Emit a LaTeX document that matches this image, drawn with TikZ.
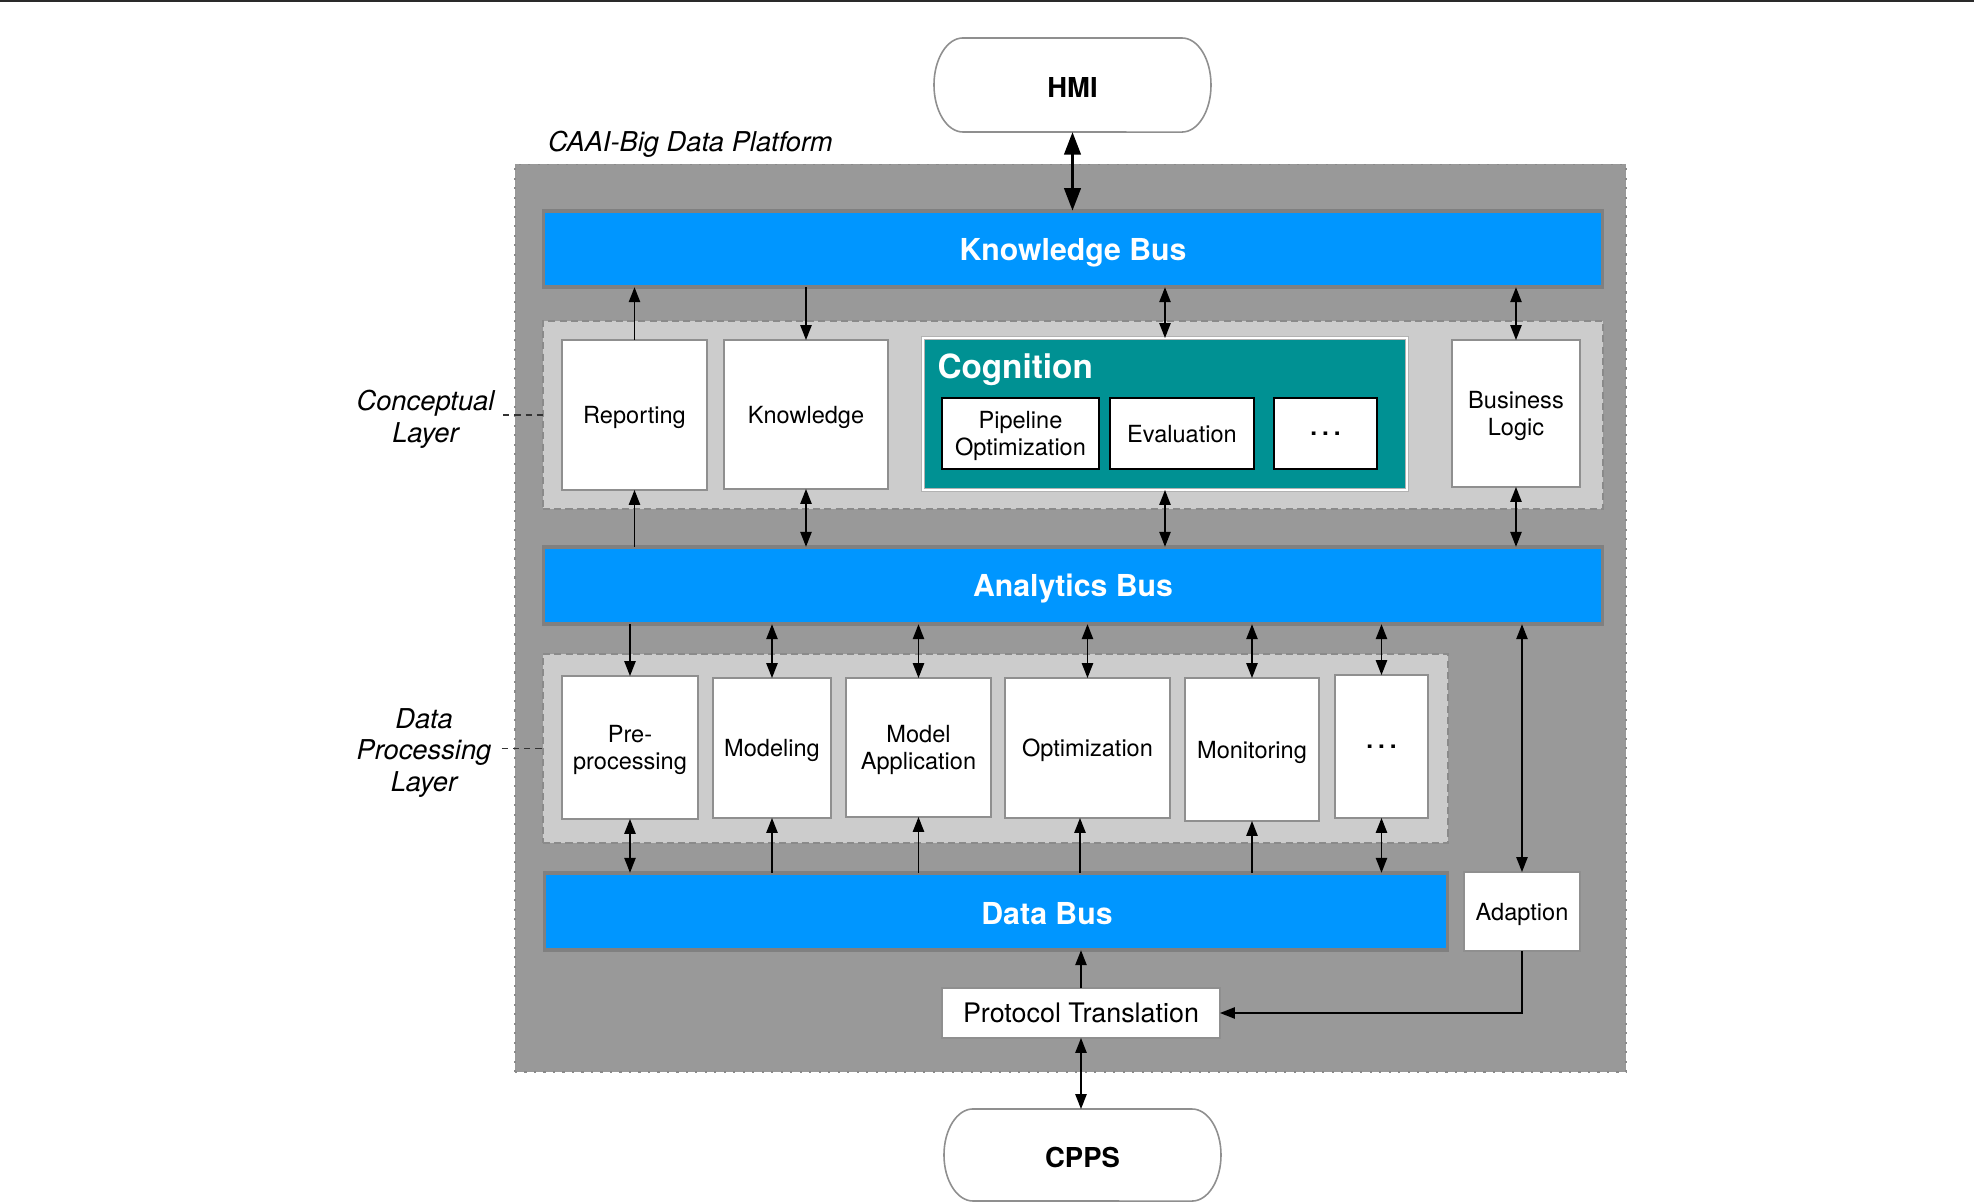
\documentclass[tikz,border=0pt]{standalone}
\usepackage{fontspec}
\setmainfont{TeX Gyre Heros}
\usetikzlibrary{arrows.meta,calc}
\definecolor{platgray}{HTML}{999999}
\definecolor{platborder}{HTML}{8A8A8A}
\definecolor{layergray}{HTML}{CCCCCC}
\definecolor{layerborder}{HTML}{8A8A8A}
\definecolor{busblue}{HTML}{0096FF}
\definecolor{busborder}{HTML}{808080}
\definecolor{cogteal}{HTML}{009193}
\definecolor{boxborder}{HTML}{8F8F8F}
\definecolor{rulecol}{HTML}{2A2A2A}
\newcommand\fs[2]{\fontsize{#1}{#2}\selectfont}
\newcommand\dotsbox{{\bfseries\fs{6.9}{8}.\kern1.45pt.\kern1.45pt.}}
\newcommand\mkbox[7]{%
  \pgfmathsetmacro\bw{(#5-#3)*0.01}%
  \pgfmathsetmacro\bh{(#6-#4)*0.01}%
  \node[#2, minimum width=\bw cm, minimum height=\bh cm] (#1) at ({(#3+#5)/2},{(#4+#6)/2}) {#7};}
\begin{document}
\begin{tikzpicture}[x=0.01cm,y=-0.01cm,
  every node/.style={inner sep=0pt, outer sep=0pt},
  platform/.style={fill=platgray, draw=platborder, line width=0.5pt, dash pattern=on 0.6pt off 2.1pt},
  layer/.style={fill=layergray, draw=layerborder, line width=0.3pt, dash pattern=on 2pt off 1.2pt},
  bus/.style={fill=busblue, draw=busborder, line width=1pt, text=white, text depth=0pt, font=\fs{8.6}{10}\bfseries},
  wbox/.style={fill=white, draw=boxborder, line width=0.45pt, align=center, text depth=0pt, font=\fs{6.7}{7.9}},
  cbox/.style={fill=white, draw=black, line width=0.6pt, align=center, text depth=0pt, font=\fs{6.7}{7.9}},
  cogbox/.style={fill=cogteal, draw=black!30, line width=0.22pt, double=white, double distance=0.55pt},
  term/.style={draw=none, text height=7pt, text depth=0pt, font=\fs{7.8}{9}\bfseries},
  termline/.style={draw=boxborder, fill=white, line width=0.45pt},
  layerlab/.style={align=center, text width=1.55cm, font=\fs{7.77}{9}\itshape},
  lconn/.style={draw=black!80, line width=0.3pt, dash pattern=on 1.8pt off 1.4pt},
  arr/.style={line width=0.4pt, -{Triangle[length=4.2pt,width=3.2pt]}},
  darr/.style={line width=0.4pt, {Triangle[length=4.2pt,width=3.2pt]}-{Triangle[length=4.2pt,width=3.2pt]}},
  bigdarr/.style={line width=0.95pt, {Triangle[length=6.4pt,width=4.6pt]}-{Triangle[length=6.4pt,width=4.6pt]}}
]
\useasboundingbox (0,0) rectangle (1974,1203);
\fill[rulecol] (0,0) rectangle (1974,2.2);

% platform
\mkbox{plat}{platform}{515}{164.5}{1626}{1072}{}
\node[anchor=base west, font=\fs{7.77}{9}\itshape] (plab) at (548,151) {CAAI-Big Data Platform};

% buses and layers
\mkbox{kb}{bus}{543.75}{210.75}{1602.25}{287.25}{Knowledge Bus}
\mkbox{cl}{layer}{543}{321}{1603}{509}{}
\mkbox{ab}{bus}{543.75}{546.75}{1602.25}{624.25}{Analytics Bus}
\mkbox{dpl}{layer}{543}{654}{1448}{843}{}
\mkbox{db}{bus}{544.75}{872.75}{1447.25}{950.25}{}
\node[text=white, text depth=0pt, font=\fs{8.6}{10}\bfseries] (dbt) at (1047,913) {Data Bus};

% conceptual layer
\mkbox{rep}{wbox}{562}{340}{707}{490}{Reporting}
\mkbox{kn}{wbox}{724}{340}{888}{489}{Knowledge}
\mkbox{cog}{cogbox}{923}{338}{1407}{490}{}
\node[anchor=base west, text=white, font=\fs{9.47}{11}\bfseries] (cogt) at (937.5,378) {Cognition};
\mkbox{po}{cbox}{942}{398}{1099}{469}{Pipeline\\Optimization}
\mkbox{ev}{cbox}{1110}{398}{1254}{469}{Evaluation}
\mkbox{cd}{cbox}{1274}{398}{1377}{469}{\dotsbox}
\mkbox{bl}{wbox}{1452}{340}{1580}{487}{Business\\Logic}

% data processing layer
\mkbox{pre}{wbox}{562}{676}{698}{819}{Pre-\\processing}
\mkbox{mod}{wbox}{713}{678}{831}{818}{Modeling}
\mkbox{ma}{wbox}{846}{678}{991}{817}{Model\\Application}
\mkbox{opt}{wbox}{1005}{678}{1170}{818}{Optimization}
\mkbox{mon}{wbox}{1185}{678}{1319}{821}{Monitoring}
\mkbox{dd}{wbox}{1335}{675}{1428}{818}{\dotsbox}

\mkbox{ad}{wbox}{1464}{872}{1580}{951}{Adaption}
\mkbox{pt}{wbox, font=\fs{7.65}{9}}{942}{988}{1220}{1038}{Protocol Translation}

% terminals
\draw[termline] (963,38) -- (1182,38) arc[start angle=90,end angle=-90,x radius=0.29cm,y radius=0.47cm] -- (963,132) arc[start angle=270,end angle=90,x radius=0.29cm,y radius=0.47cm] -- cycle;
\mkbox{hmi}{term}{934}{38}{1211}{132}{HMI}
\draw[termline] (973,1109) -- (1192,1109) arc[start angle=90,end angle=-90,x radius=0.29cm,y radius=0.46cm] -- (973,1201) arc[start angle=270,end angle=90,x radius=0.29cm,y radius=0.46cm] -- cycle;
\mkbox{cpps}{term}{944}{1109}{1221}{1201}{CPPS}

% layer labels
\node[layerlab] (cll) at (425.5,419) {Conceptual\\Layer};
\node[layerlab] (dpll) at (424,753) {Data\\Processing\\Layer};
\draw[lconn] (cl.west -| cll.east) -- (cl.west);
\draw[lconn] (dpl.west -| dpll.east) -- (dpl.west);

% arrows knowledge bus <-> conceptual
\draw[bigdarr] (hmi.south) -- (hmi.south |- kb.north);
\draw[arr] (rep.north) -- (rep.north |- kb.south);
\draw[arr] (kn.north |- kb.south) -- (kn.north);
\draw[darr] (cog.north) -- (cog.north |- kb.south);
\draw[darr] (bl.north) -- (bl.north |- kb.south);
% conceptual <-> analytics bus
\draw[arr] (rep.south |- ab.north) -- (rep.south);
\draw[darr] (kn.south) -- (kn.south |- ab.north);
\draw[darr] (cog.south) -- (cog.south |- ab.north);
\draw[darr] (bl.south) -- (bl.south |- ab.north);
% analytics bus <-> data processing
\draw[arr] (pre.north |- ab.south) -- (pre.north);
\draw[darr] (mod.north |- ab.south) -- (mod.north);
\draw[darr] (ma.north |- ab.south) -- (ma.north);
\draw[darr] (opt.north |- ab.south) -- (opt.north);
\draw[darr] (mon.north |- ab.south) -- (mon.north);
\draw[darr] (dd.north |- ab.south) -- (dd.north);
\draw[darr] (ad.north) -- (ad.north |- ab.south);
% data processing <-> data bus
\draw[darr] (pre.south) -- (pre.south |- db.north);
\draw[arr] (mod.south |- db.north) -- (mod.south);
\draw[arr] (ma.south |- db.north) -- (ma.south);
\draw[arr] ([xshift=-0.075cm]opt.south |- db.north) -- ([xshift=-0.075cm]opt.south);
\draw[arr] (mon.south |- db.north) -- (mon.south);
\draw[darr] (dd.south) -- (dd.south |- db.north);
% bottom
\draw[arr] (pt.north) -- (pt.north |- db.south);
\draw[arr] (ad.south) |- (pt.east);
\draw[darr] (pt.south) -- (pt.south |- cpps.north);
\end{tikzpicture}
\end{document}
